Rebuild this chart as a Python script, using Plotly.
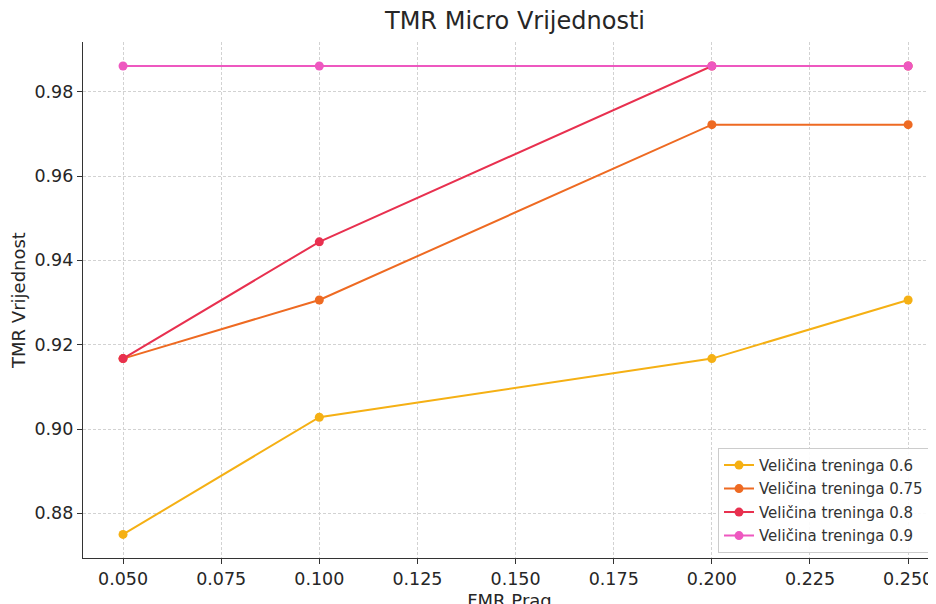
import plotly.graph_objects as go

fmr_prag = [0.05, 0.10, 0.20, 0.25]
tmr_06 = [0.8750, 0.9028, 0.9167, 0.9306]
tmr_075 = [0.9167, 0.9306, 0.9722, 0.9722]
tmr_08 = [0.9167, 0.9444, 0.9861, 0.9861]
tmr_09 = [0.9861, 0.9861, 0.9861, 0.9861]
series_names = ["Veličina treninga 0.6", "Veličina treninga 0.75",
                "Veličina treninga 0.8", "Veličina treninga 0.9"]
colors = ["#F5B014", "#EE6A22", "#E8304F", "#EE58C0"]
x_ticks = [0.05, 0.075, 0.1, 0.125, 0.15, 0.175, 0.2, 0.225, 0.25]
y_ticks = [0.88, 0.90, 0.92, 0.94, 0.96, 0.98]

fig = go.Figure()
for i, (name, vals, col) in enumerate(zip(series_names, [tmr_06, tmr_075, tmr_08, tmr_09], colors)):
    fig.add_trace(go.Scatter(x=fmr_prag, y=vals, mode="lines+markers", name=name,
                             legendgroup=f"g{i}",
                             line=dict(color=col, width=2),
                             marker=dict(color=col, size=9)))

FONT = "DejaVu Sans"
axis_common = dict(showline=True, linecolor="#333333", linewidth=1.3,
                   ticks="outside", ticklen=5, tickcolor="#333333",
                   showgrid=True, gridcolor="#d2d2d2", griddash="3px,2px", gridwidth=1,
                   zeroline=False, mirror=False, automargin=False,
                   tickfont=dict(family=FONT, size=17.5, color="#262626"))

# the page body has an 8px default margin, so the figure is offset by 8px
fig.update_layout(
    width=936, height=604,
    paper_bgcolor="white", plot_bgcolor="white",
    margin=dict(l=75, r=8, t=34, b=54),
    title=dict(text="TMR Micro Vrijednosti", x=507 / 936, xanchor="center", y=1 - 4 / 604, yanchor="top",
               font=dict(family=FONT, size=24, color="#262626")),
    xaxis=dict(range=[0.0398, 0.2571], tickvals=x_ticks, tickformat=".3f",
               title=dict(text="FMR Prag", font=dict(family=FONT, size=18, color="#262626"), standoff=6),
               **axis_common),
    yaxis=dict(range=[0.8694, 0.9918], tickvals=y_ticks, tickformat=".2f",
               title=dict(text="TMR Vrijednost", font=dict(family=FONT, size=18, color="#262626"), standoff=9),
               **axis_common),
    legend=dict(x=(718 - 83) / 853, xanchor="left", y=0.01, yanchor="bottom",
                bgcolor="rgba(255,255,255,0.9)", bordercolor="#cccccc", borderwidth=1,
                font=dict(family=FONT, size=15, color="#333333"),
                tracegroupgap=1, itemsizing="trace"),
    font=dict(family=FONT),
)

fig.write_html("out.html")
